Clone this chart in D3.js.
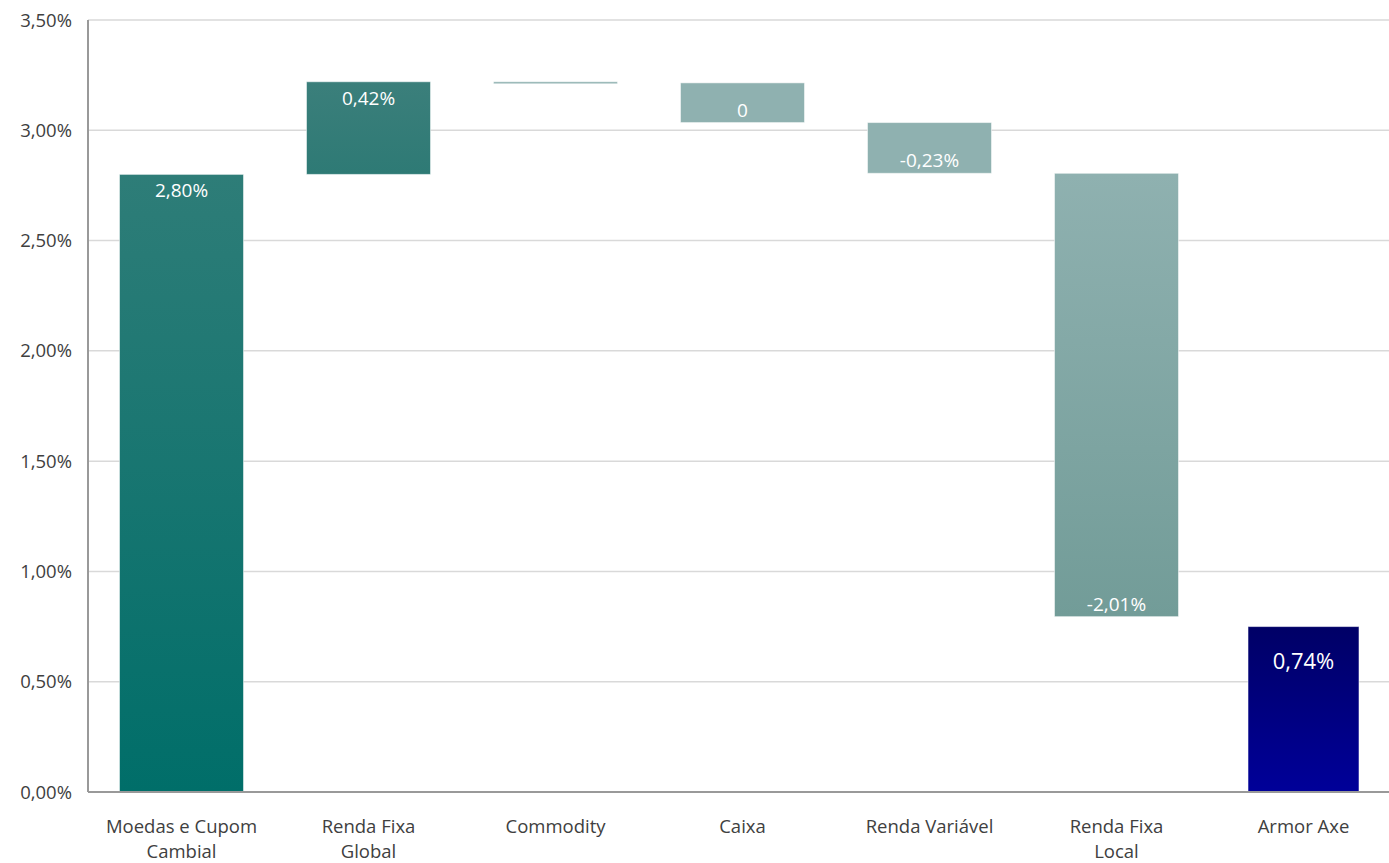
<!DOCTYPE html>
<html><head><meta charset="utf-8">
<script src="https://cdn.jsdelivr.net/npm/d3@7"></script>
<style>body{margin:0;background:#fff}svg{display:block}text{font-family:"Open Sans","Noto Sans",sans-serif}</style>
</head><body><svg id="c" width="1389" height="863"></svg>
<script>
const categories = ["Moedas e Cupom|Cambial","Renda Fixa|Global","Commodity","Caixa","Renda Variável","Renda Fixa|Local","Armor Axe"];
const values = [2.80, 0.42, -0.005, -0.18, -0.23, -2.01, 0.75];
const isTotal = [false,false,false,false,false,false,true];
const labels = ["2,80%","0,42%","","0","-0,23%","-2,01%","0,74%"];
const yTicks = [0,0.5,1,1.5,2,2.5,3,3.5];
const colorsTop = ["#2e7d78","#3b7f7b","#8fb1b0","#8fb1b0","#8fb1b0","#8fb1b0","#000066"];
const colorsBot = ["#006e69","#2e7a75","#8fb1b0","#8fb1b0","#8fb1b0","#729c98","#000099"];

const svg = d3.select("#c");
const m = {l:88, t:20, b:71};
const W = 1389, H = 863;
const x = d3.scaleBand().domain(categories).range([m.l, 1397]).paddingInner(0.337).paddingOuter(0.1685);
const y = d3.scaleLinear().domain([0,3.5]).range([H-m.b, m.t]);

let run = 0;
const bars = categories.map((c,i)=>{
  let y0, y1;
  if (isTotal[i]) { y0 = 0; y1 = values[i]; run = values[i]; }
  else { y0 = run; y1 = run + values[i]; run = y1; }
  return {c, i, lo:Math.min(y0,y1), hi:Math.max(y0,y1), v:values[i], label:labels[i]};
});
const bw = d => isTotal[d.i] ? x.bandwidth()*0.895 : x.bandwidth();
const cx = c => x(c)+x.bandwidth()/2;

const defs = svg.append("defs");
bars.forEach(b=>{
  const g = defs.append("linearGradient").attr("id","g"+b.i).attr("x1",0).attr("y1",0).attr("x2",0).attr("y2",1);
  g.append("stop").attr("offset","0%").attr("stop-color",colorsTop[b.i]);
  g.append("stop").attr("offset","100%").attr("stop-color",colorsBot[b.i]);
});

svg.append("g").selectAll("line").data(yTicks.filter(t=>t>0)).join("line")
  .attr("x1",m.l).attr("x2",W).attr("y1",d=>y(d)).attr("y2",d=>y(d))
  .attr("stroke","#d9d9d9").attr("stroke-width",1.5);

svg.append("g").selectAll("rect").data(bars).join("rect")
  .attr("x",d=>cx(d.c)-bw(d)/2).attr("width",bw)
  .attr("y",d=>y(d.hi)).attr("height",d=>Math.max(2,y(d.lo)-y(d.hi)))
  .attr("fill",d=>`url(#g${d.i})`)
  .attr("stroke","rgba(255,255,255,0.5)").attr("stroke-width",1);

svg.append("g").selectAll("text").data(bars.filter(b=>b.label)).join("text")
  .attr("x",d=>cx(d.c))
  .attr("y",d=> isTotal[d.i] ? y(d.hi)+42 : (d.v>=0 ? y(d.hi)+23 : y(d.lo)-6))
  .attr("text-anchor","middle").attr("fill","#ffffff")
  .attr("font-size",d=>isTotal[d.i]?22:19)
  .text(d=>d.label);

svg.append("line").attr("x1",m.l).attr("x2",m.l).attr("y1",m.t).attr("y2",y(0))
  .attr("stroke","#999999").attr("stroke-width",2);
svg.append("line").attr("x1",m.l).attr("x2",W).attr("y1",y(0)).attr("y2",y(0))
  .attr("stroke","#999999").attr("stroke-width",2);

const fmt = d=> d3.format(".2f")(d).replace(".",",")+"%";
svg.append("g").selectAll("text").data(yTicks).join("text")
  .attr("x",72).attr("y",d=>y(d)+6.5).attr("text-anchor","end")
  .attr("font-size",18.5).attr("fill","#404040").text(fmt);

const cl = svg.append("g").selectAll("text").data(categories).join("text")
  .attr("x",d=>cx(d)).attr("y",833)
  .attr("text-anchor","middle").attr("font-size",18.5).attr("fill","#404040");
cl.each(function(d){
  d.split("|").forEach((s,k)=>{
    d3.select(this).append("tspan").attr("x",cx(d)).attr("dy",k?25:0).text(s);
  });
});
</script></body></html>
